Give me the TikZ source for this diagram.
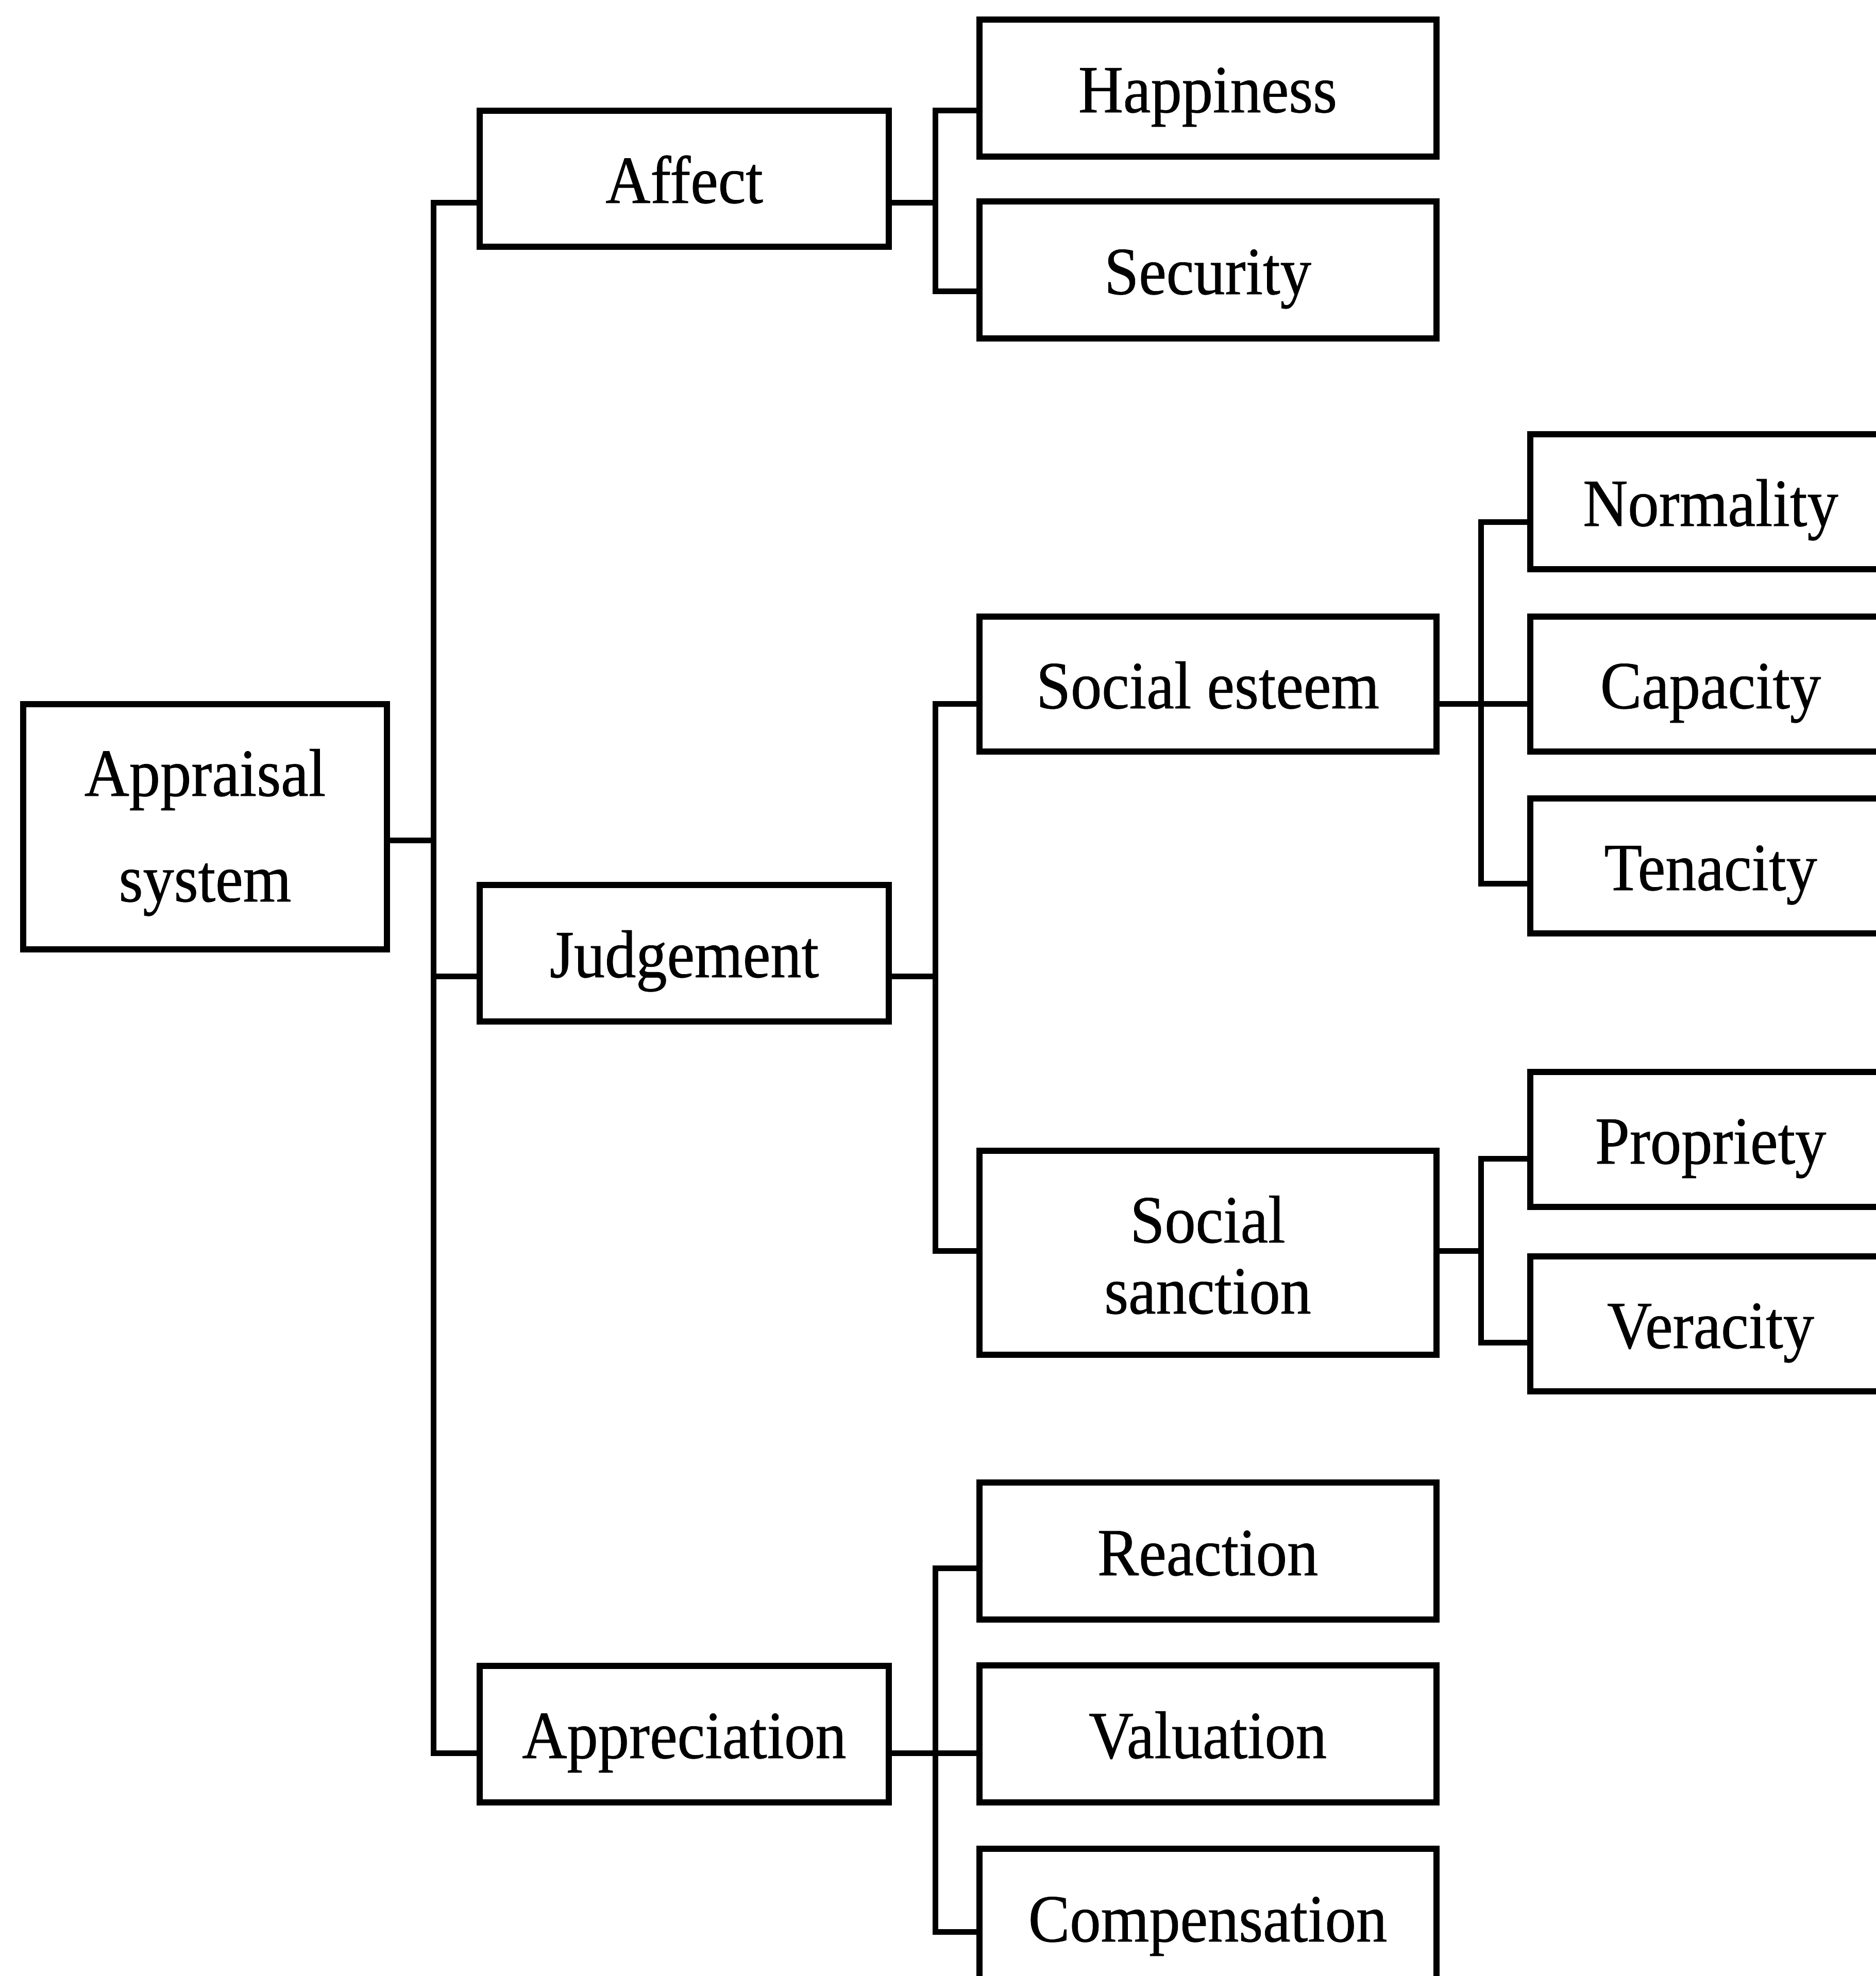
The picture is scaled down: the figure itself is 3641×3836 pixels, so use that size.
\documentclass[tikz,border=0pt]{standalone}
\usepackage{fontspec}
\setmainfont{Liberation Serif}[FakeStretch=0.92, FakeBold=0.6]
\begin{document}
\begin{tikzpicture}[x=0.1pt,y=-0.1pt,
  txt/.style={font=\fontsize{13.1pt}{15pt}\selectfont, inner sep=0pt},
  box/.style={draw, line width=1.2pt, rectangle, inner sep=0pt, outer sep=0pt,
    txt, text height=12.4pt, text depth=3pt},
  colA/.style={box, minimum width=70.6pt, minimum height=47.6pt},
  colB/.style={box, minimum width=79.4pt, minimum height=26.5pt},
  colC/.style={box, minimum width=88.7pt, minimum height=26.6pt},
  colD/.style={box, minimum width=70pt, minimum height=26.2pt},
  link/.style={line width=1.1pt, line join=miter}]

\useasboundingbox (0,0) rectangle (3641,3836);
\clip (0,0) rectangle (3641,3836);

% root
\node[colA] (appraisal) at (398,1605) {};
\node[txt, anchor=base] at ([yshift=6pt]appraisal.center) {Appraisal};
\node[txt, anchor=base] at ([yshift=-14.5pt]appraisal.center) {system};

% second level
\node[colB] (affect)       at (1328,347)  {Affect};
\node[colB] (judgement)    at (1328,1850) {Judgement};
\node[colB] (appreciation) at (1328,3366) {Appreciation};

% third level
\node[colC] (happiness)    at (2344,171)  {Happiness};
\node[colC] (security)     at (2344,524)  {Security};
\node[colC, minimum height=26.2pt] (esteem) at (2344,1328) {Social esteem};
\node[colC, minimum height=39.6pt] (sanction) at (2344,2432) {};
\node[txt, anchor=base] at ([yshift=2pt]sanction.center) {Social};
\node[txt, anchor=base] at ([yshift=-11.8pt]sanction.center) {sanction};
\node[colC] (reaction)     at (2344,3011) {Reaction};
\node[colC] (valuation)    at (2344,3366) {Valuation};
\node[colC] (compensation) at (2344,3722) {Compensation};

% fourth level
\node[colD] (normality) at (3320,974)  {Normality};
\node[colD] (capacity)  at (3320,1328) {Capacity};
\node[colD] (tenacity)  at (3320,1681) {Tenacity};
\node[colD] (propriety) at (3320,2212) {Propriety};
\node[colD] (veracity)  at (3320,2570) {Veracity};

% connection ports on the box sides
\coordinate (appraisalE)    at ([yshift=-2.6pt]appraisal.east);
\coordinate (affectW)       at ([yshift=-4.6pt]affect.west);
\coordinate (affectE)       at ([yshift=-4.6pt]affect.east);
\coordinate (judgementW)    at ([yshift=-4.5pt]judgement.west);
\coordinate (judgementE)    at ([yshift=-4.5pt]judgement.east);
\coordinate (appreciationW) at ([yshift=-3.7pt]appreciation.west);
\coordinate (appreciationE) at ([yshift=-3.7pt]appreciation.east);
\coordinate (happinessW)    at ([yshift=-4.3pt]happiness.west);
\coordinate (securityW)     at ([yshift=-4.1pt]security.west);
\coordinate (esteemW)       at ([yshift=-3.8pt]esteem.west);
\coordinate (esteemE)       at ([yshift=-3.8pt]esteem.east);
\coordinate (sanctionW)     at ([yshift=0.4pt]sanction.west);
\coordinate (sanctionE)     at ([yshift=0.4pt]sanction.east);
\coordinate (reactionW)     at ([yshift=-3.3pt]reaction.west);
\coordinate (valuationW)    at ([yshift=-3.7pt]valuation.west);
\coordinate (compensationW) at ([yshift=-2.8pt]compensation.west);
\coordinate (normalityW)    at ([yshift=-3.9pt]normality.west);
\coordinate (capacityW)     at ([yshift=-3.8pt]capacity.west);
\coordinate (tenacityW)     at ([yshift=-3.4pt]tenacity.west);
\coordinate (proprietyW)    at ([yshift=-3.7pt]propriety.west);
\coordinate (veracityW)     at ([yshift=-3.6pt]veracity.west);

% vertical bus lines
\coordinate (busA) at (841,0);
\coordinate (busB) at (1815,0);
\coordinate (busC) at (2874,0);

% root to second level
\foreach \c in {affect, judgement, appreciation}
  \draw[link] (appraisalE) -- (appraisalE -| busA) |- (\c W);

% second level to third level
\foreach \c in {happiness, security}
  \draw[link] (affectE) -- (affectE -| busB) |- (\c W);
\foreach \c in {esteem, sanction}
  \draw[link] (judgementE) -- (judgementE -| busB) |- (\c W);
\foreach \c in {reaction, valuation, compensation}
  \draw[link] (appreciationE) -- (appreciationE -| busB) |- (\c W);

% third level to fourth level
\foreach \c in {normality, capacity, tenacity}
  \draw[link] (esteemE) -- (esteemE -| busC) |- (\c W);
\foreach \c in {propriety, veracity}
  \draw[link] (sanctionE) -- (sanctionE -| busC) |- (\c W);
\end{tikzpicture}
\end{document}
